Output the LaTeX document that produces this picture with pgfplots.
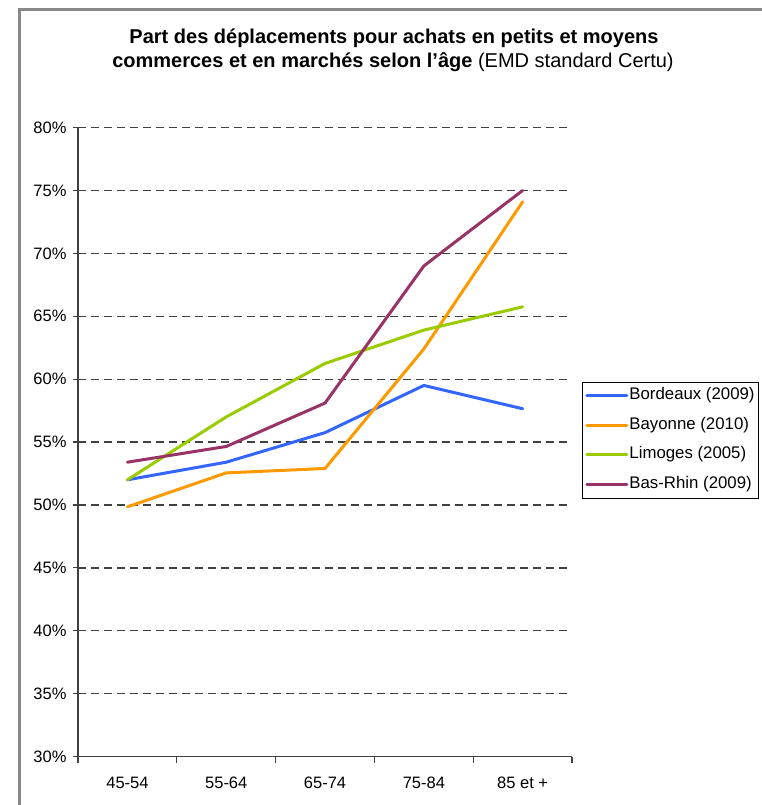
\documentclass[border=0pt]{standalone}
\usepackage{fontspec}
\setmainfont{Liberation Sans}
\usepackage{pgfplots}
\pgfplotsset{compat=1.18}
\definecolor{cBlue}{RGB}{51,102,255}
\definecolor{cOrange}{RGB}{255,153,0}
\definecolor{cGreen}{RGB}{153,204,0}
\definecolor{cPurple}{RGB}{153,51,102}
\definecolor{gridc}{RGB}{64,64,64}
\definecolor{framec}{RGB}{136,136,136}
\begin{document}
\begin{tikzpicture}[x=1pt,y=1pt]
\useasboundingbox (0,0) rectangle (762,805);
% outer frame
\draw[framec, line width=3pt] (19.5,0) -- (19.5,795.5) -- (762,795.5);
% title
\node[anchor=base, font=\fontsize{20}{24}\selectfont\bfseries] at (394,761) {Part des déplacements pour achats en petits et moyens};
\node[anchor=base, font=\fontsize{20}{24}\selectfont] at (393,737) {\textbf{commerces et en marchés selon l'âge} (EMD standard Certu)};
\begin{axis}[
  at={(79,38.5)}, anchor=south west,
  scale only axis, width=494pt, height=629pt,
  xmin=0, xmax=5, ymin=30, ymax=80,
  axis x line*=bottom, axis y line*=left,
  axis line style={gridc, line width=1.3pt},
  xtick={0.5,1.5,2.5,3.5,4.5},
  xticklabels={45-54,55-64,65-74,75-84,85 et +},
  minor xtick={0,1,2,3,4,5},
  ytick={30,35,...,80},
  yticklabels={30\%,35\%,40\%,45\%,50\%,55\%,60\%,65\%,70\%,75\%,80\%},
  tick align=outside,
  major tick length=5pt, minor tick length=6pt,
  tick style={gridc, line width=1.2pt},
  major x tick style={draw=none},
  ymajorgrids,
  grid style={gridc, line width=1.3pt, dash pattern=on 8pt off 5pt},
  ticklabel style={font=\fontsize{16.5}{19}\selectfont, text=black},
  yticklabel style={xshift=-3pt},
  xticklabel style={yshift=-12pt},
  legend style={at={(1.0202,0.5962)}, anchor=north west, draw=black, line width=0.8pt,
    font=\fontsize{16.8}{19}\selectfont, row sep=12pt, inner xsep=3pt, inner ysep=5pt,
    nodes={text height=12pt, text depth=3.5pt, inner sep=1pt}},
  legend cell align=left,
  legend image code/.code={\draw[#1] (0pt,0pt) -- (40pt,0pt);},
  every axis plot/.append style={line width=3pt, line join=round, line cap=round},
]
\addplot[cBlue] coordinates {(0.5,52.0) (1.5,53.4) (2.5,55.75) (3.5,59.5) (4.5,57.65)};
\addplot[cOrange] coordinates {(0.5,49.85) (1.5,52.55) (2.5,52.9) (3.5,62.4) (4.5,74.1)};
\addplot[cGreen] coordinates {(0.5,52.0) (1.5,57.0) (2.5,61.25) (3.5,63.9) (4.5,65.75)};
\addplot[cPurple] coordinates {(0.5,53.4) (1.5,54.65) (2.5,58.1) (3.5,69.0) (4.5,75.0)};
\legend{Bordeaux (2009),Bayonne (2010),Limoges (2005),Bas-Rhin (2009)}
\end{axis}
\end{tikzpicture}
\end{document}
